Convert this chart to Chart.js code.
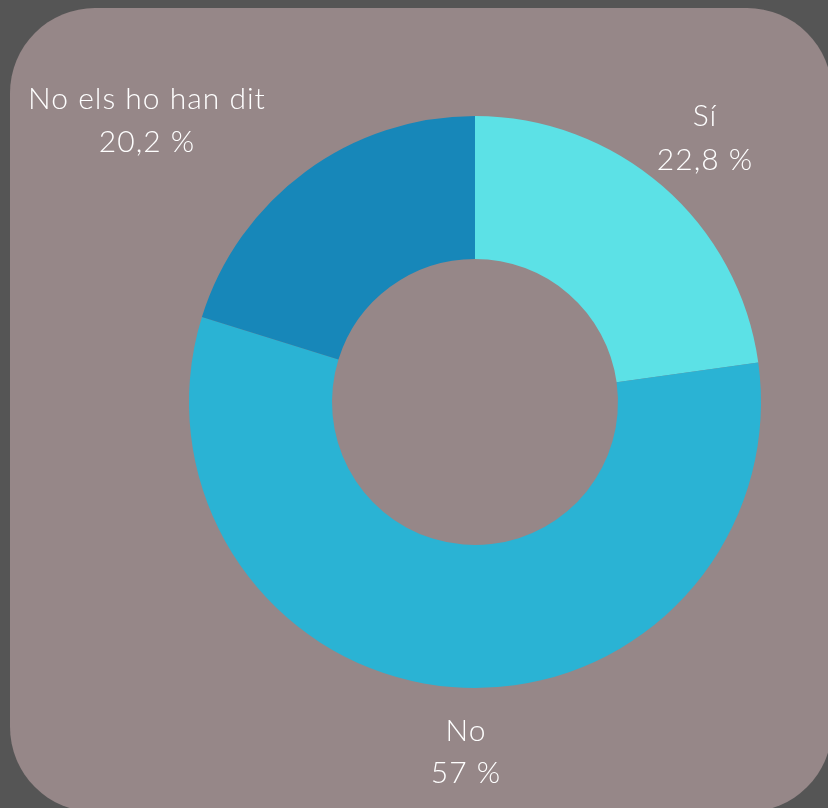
<!DOCTYPE html>
<html>
<head>
<meta charset="utf-8">
<script src="https://cdn.jsdelivr.net/npm/chart.js@4"></script>
<style>
  html, body { margin: 0; padding: 0; background: #555555; overflow: hidden; }
  #card {
    position: absolute; left: 10px; top: 8px; width: 822px; height: 804px;
    background: #968788; border-radius: 85px;
  }
  #wrap { position: absolute; left: 0; top: 0; width: 828px; height: 808px; }
</style>
</head>
<body>
<div id="card"></div>
<div id="wrap"><canvas id="pie"></canvas></div>
<script>
const labels = ["Sí", "No", "No els ho han dit"];
const values = [22.8, 57, 20.2];
const valueText = ["22,8 %", "57 %", "20,2 %"];
const colors = ["#5ce1e6", "#2ab3d4", "#1787b9"];

// where each label's two lines sit (centre x, first line y, second line y)
const labelPos = [
    { x: 705, y1: 116, y2: 160 },
    { x: 466, y1: 731, y2: 773 },
    { x: 147, y1: 99, y2: 142 }
];

const outsideLabels = {
    id: "outsideLabels",
    afterDraw(chart) {
        const ctx = chart.ctx;
        ctx.save();
        ctx.fillStyle = "#ffffff";
        ctx.textAlign = "center";
        ctx.textBaseline = "middle";
        ctx.font = "300 30px Lato, 'Open Sans', sans-serif";
        ctx.letterSpacing = "1px";
        chart.data.labels.forEach((lab, i) => {
            const p = labelPos[i];
            ctx.fillText(lab, p.x, p.y1);
            ctx.fillText(valueText[i], p.x, p.y2);
        });
        ctx.restore();
    }
};

new Chart(document.getElementById("pie").getContext("2d"), {
    type: "doughnut",
    data: {
        labels: labels,
        datasets: [{
            data: values,
            backgroundColor: colors,
            borderWidth: 0
        }]
    },
    options: {
        responsive: true,
        maintainAspectRatio: false,
        animation: false,
        cutout: "50%",
        layout: { padding: { left: 189, top: 116, right: 67, bottom: 120 } },
        plugins: {
            legend: { display: false },
            tooltip: { enabled: false }
        }
    },
    plugins: [outsideLabels]
});
</script>
</body>
</html>
